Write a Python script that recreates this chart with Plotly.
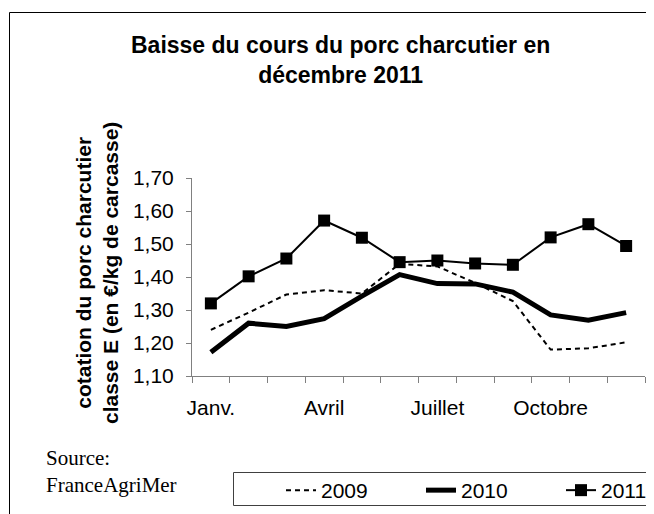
import plotly.graph_objects as go

months = ['Janv.', 'Févr.', 'Mars', 'Avril', 'Mai', 'Juin',
          'Juillet', 'Août', 'Sept.', 'Octobre', 'Nov.', 'Déc.']
shown_labels = ['Janv.', 'Avril', 'Juillet', 'Octobre']
tick_text = [m if m in shown_labels else '' for m in months]

s2009 = [1.240, 1.292, 1.347, 1.360, 1.350, 1.440, 1.432, 1.382, 1.327, 1.180, 1.184, 1.202]
s2010 = [1.172, 1.260, 1.250, 1.274, 1.342, 1.407, 1.380, 1.379, 1.354, 1.285, 1.269, 1.292]
s2011 = [1.320, 1.402, 1.456, 1.571, 1.519, 1.445, 1.450, 1.441, 1.437, 1.520, 1.560, 1.494]

# the page body adds an 8px offset; work in page pixels and convert
OFF = 8
W, H = 654 - OFF, 514 - OFF
PL, PR, PT, PB = 192, 645, 178, 376      # plot area in page pixels
L, T = PL - OFF, PT - OFF
R = W - (PR - OFF)
B = H - (PB - OFF)
pw, ph = PR - PL, PB - PT


def px(x):
    return (x - PL) / pw


def py(y):
    return (PB - y) / ph


SANS = 'Liberation Sans, Arial, sans-serif'
SERIF = 'Liberation Serif, Times New Roman, serif'

fig = go.Figure()
fig.add_trace(go.Scatter(x=months, y=s2009, name='2009', mode='lines',
                         line=dict(color='black', width=2, dash='5px,4px')))
fig.add_trace(go.Scatter(x=months, y=s2010, name='2010', mode='lines',
                         line=dict(color='black', width=5)))
fig.add_trace(go.Scatter(x=months, y=s2011, name='2011', mode='lines+markers',
                         line=dict(color='black', width=2),
                         marker=dict(symbol='square', size=12, color='black')))

fig.update_layout(
    width=W, height=H,
    margin=dict(l=L, r=R, t=T, b=B, autoexpand=False),
    paper_bgcolor='white', plot_bgcolor='white',
    separators=', ',
    font=dict(family=SANS, size=21, color='black'),
    showlegend=True,
    legend=dict(orientation='h', x=px(281), xanchor='left',
                y=py(470), yanchor='top',
                font=dict(family=SANS, size=21, color='black'),
                bgcolor='rgba(0,0,0,0)', borderwidth=0,
                entrywidth=95, entrywidthmode='pixels',
                traceorder='normal'),
    xaxis=dict(type='category', range=[-0.5, 11.5], automargin=False,
               tickmode='array', tickvals=months, ticktext=tick_text,
               tickangle=0,
               tickson='boundaries', ticks='outside', ticklen=6,
               tickcolor='#808080', showline=True, linecolor='#808080',
               linewidth=1, showgrid=False, zeroline=False,
               ticklabelstandoff=13,
               tickfont=dict(family=SANS, size=21, color='black')),
    yaxis=dict(range=[1.10, 1.70], tickmode='linear', tick0=1.10, dtick=0.10,
               automargin=False,
               tickformat='.2f', ticks='outside', ticklen=5,
               tickcolor='#808080', showline=True, linecolor='#808080',
               linewidth=1, showgrid=False, zeroline=False,
               ticklabelstandoff=8,
               tickfont=dict(family=SANS, size=21, color='black')),
)

fig.add_annotation(text='<b>Baisse du cours du porc charcutier en<br>décembre 2011</b>',
                   xref='paper', yref='paper', x=px(340), y=py(60),
                   xanchor='center', yanchor='middle', showarrow=False,
                   font=dict(family=SANS, size=23, color='black'))
fig.add_annotation(text='<b>cotation du porc charcutier<br>classe E (en €/kg de carcasse)</b>',
                   xref='paper', yref='paper', x=px(97), y=py(273),
                   xanchor='center', yanchor='middle', textangle=-90,
                   showarrow=False,
                   font=dict(family=SANS, size=21, color='black'))
fig.add_annotation(text='Source:<br>FranceAgriMer',
                   xref='paper', yref='paper', x=px(44), y=py(471),
                   xanchor='left', yanchor='middle', align='left',
                   showarrow=False,
                   font=dict(family=SERIF, size=21, color='black'))

# outer frame and legend box
fig.add_shape(type='rect', xref='paper', yref='paper',
              x0=px(9.5), x1=px(720), y0=py(600), y1=py(12.5),
              line=dict(color='black', width=1), fillcolor='rgba(0,0,0,0)',
              layer='below')
fig.add_shape(type='rect', xref='paper', yref='paper',
              x0=px(233.5), x1=px(720), y0=py(505.5), y1=py(472.5),
              line=dict(color='#404040', width=1), fillcolor='rgba(0,0,0,0)',
              layer='below')

fig.write_html('out.html')
